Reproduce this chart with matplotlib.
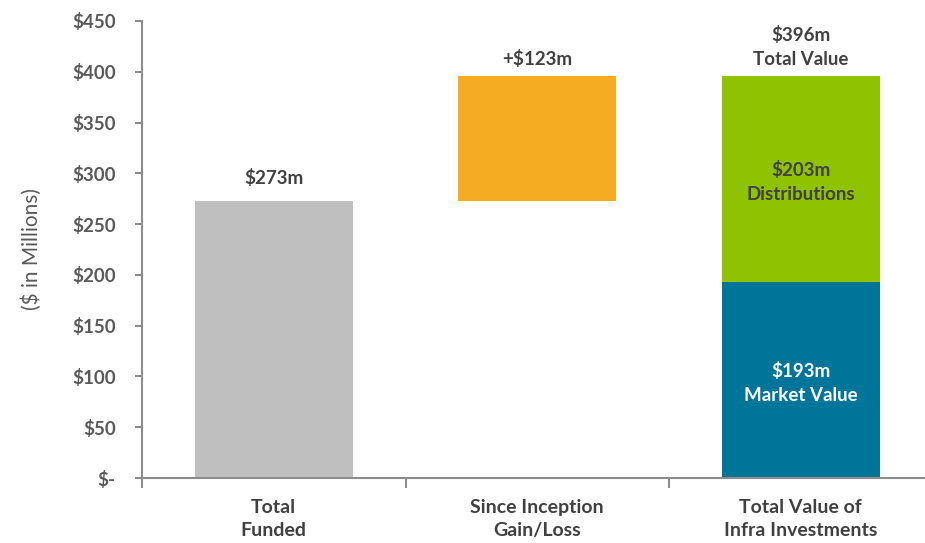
import matplotlib.pyplot as plt
from matplotlib.ticker import FixedLocator

plt.rcParams["font.family"] = ["Lato", "DejaVu Sans"]

categories = ["Total\nFunded", "Since Inception\nGain/Loss", "Total Value of\nInfra Investments"]
total_funded = 273
gain_loss = 123
market_value = 193
distributions = 203
total_value = market_value + distributions

y_ticks = [0, 50, 100, 150, 200, 250, 300, 350, 400, 450]
y_tick_labels = ["$-", "$50", "$100", "$150", "$200", "$250", "$300", "$350", "$400", "$450"]

GRAY = "#BFBFBF"
ORANGE = "#F5AB22"
GREEN = "#8FC200"
TEAL = "#00759A"
TEXT = "#404040"
TICK_TEXT = "#595959"
AXIS = "#8C8C8C"

fig = plt.figure(figsize=(9.25, 5.43), dpi=100)
ax = fig.add_axes([142 / 925, 65 / 543, 790.5 / 925, 457 / 543])

x = [0, 1, 2]
width = 0.6
ax.bar(x[0], total_funded, width=width, color=GRAY)
ax.bar(x[1], gain_loss, bottom=total_funded, width=width, color=ORANGE)
ax.bar(x[2], market_value, width=width, color=TEAL)
ax.bar(x[2], distributions, bottom=market_value, width=width, color=GREEN)

lab = dict(ha="center", fontsize=13.5, fontweight="bold", color=TEXT, linespacing=1.45)
ax.text(x[0], total_funded + 14, f"${total_funded}m", va="bottom", **lab)
ax.text(x[1], total_funded + gain_loss + 8, f"+${gain_loss}m", va="bottom", **lab)
ax.text(x[2], total_value + 8, f"${total_value}m\nTotal Value", va="bottom", **lab)
ax.text(x[2], market_value + distributions / 2 - 3, f"${distributions}m\nDistributions",
        va="center", **lab)
lab_w = dict(lab, color="white")
ax.text(x[2], market_value / 2 - 3, f"${market_value}m\nMarket Value", va="center", **lab_w)

ax.set_xlim(-0.5, 2.5)
ax.set_ylim(0, 450)
ax.set_yticks(y_ticks)
ax.set_yticklabels(y_tick_labels)
ax.xaxis.set_major_locator(FixedLocator([-0.5, 0.5, 1.5, 2.5]))
ax.set_xticklabels([])
ax.xaxis.set_minor_locator(FixedLocator(x))
ax.set_xticklabels(categories, minor=True)
ax.tick_params(axis="x", which="minor", length=0, pad=15)
ax.tick_params(axis="x", which="major", length=7, color=AXIS, width=1.5)
ax.tick_params(axis="y", length=5, color=AXIS, width=1.5, pad=14)
for t in ax.get_yticklabels():
    t.set_fontsize(13.5)
    t.set_fontweight("bold")
    t.set_color(TICK_TEXT)
for t in ax.get_xticklabels(minor=True):
    t.set_fontsize(14)
    t.set_fontweight("bold")
    t.set_color(TEXT)
    t.set_linespacing(1.45)

ax.set_ylabel("($ in Millions)", fontsize=15, color=TICK_TEXT, labelpad=22)

for s in ["top", "right"]:
    ax.spines[s].set_visible(False)
for s in ["left", "bottom"]:
    ax.spines[s].set_color(AXIS)
    ax.spines[s].set_linewidth(1.5)
ax.spines["bottom"].set_bounds(-0.515, 2.5)

fig.savefig("out.png", dpi=100)
